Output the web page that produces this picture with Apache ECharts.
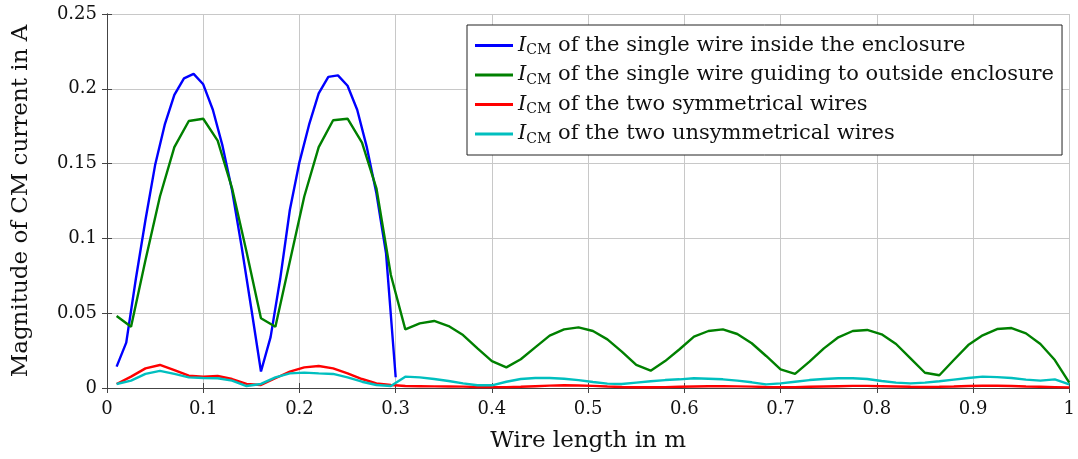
<!DOCTYPE html>
<html>
<head>
<meta charset="utf-8">
<script src="https://cdn.jsdelivr.net/npm/echarts@6/dist/echarts.min.js"></script>
<style>html,body{margin:0;padding:0;background:#fff}#c{width:1078px;height:459px}</style>
</head>
<body>
<div id="c"></div>
<script>
// Sample positions (wire length in m)
var xBlue = [0.01,0.02,0.03,0.04,0.05,0.06,0.07,0.08,0.09,0.10,0.11,0.12,0.13,0.14,0.15,0.16,0.17,0.18,0.19,0.20,0.21,0.22,0.23,0.24,0.25,0.26,0.27,0.28,0.29,0.30];
var xOther = [0.01,0.025,0.04,0.055,0.07,0.085,0.10,0.115,0.13,0.145,0.16,0.175,0.19,0.205,0.22,0.235,0.25,0.265,0.28,0.295,
  0.31,0.325,0.34,0.355,0.37,0.385,0.40,0.415,0.43,0.445,0.46,0.475,0.49,0.505,0.52,0.535,0.55,0.565,0.58,
  0.595,0.61,0.625,0.64,0.655,0.67,0.685,0.70,0.715,0.73,0.745,0.76,0.775,0.79,0.805,0.82,0.835,0.85,0.865,0.88,0.895,0.91,0.925,0.94,0.955,0.97,0.985,1.0];

// Series values (A)
var blueInside = [0.0143,0.0303,0.073,0.1125,0.149,0.176,0.196,0.207,0.210,0.203,0.186,0.162,0.132,0.094,0.053,0.011,0.034,0.073,0.119,0.151,0.176,0.197,0.208,0.209,0.202,0.186,0.161,0.130,0.090,0.0072];
var greenOutside = [0.0481,0.041,0.0856,0.128,0.161,0.1785,0.180,0.1653,0.1335,0.0911,0.0466,0.041,0.0845,0.128,0.161,0.179,0.180,0.164,0.1335,0.0755,
  0.0392,0.0432,0.0448,0.0414,0.0354,0.0265,0.018,0.0138,0.0192,0.0272,0.035,0.0392,0.0405,0.0381,0.0325,0.0243,0.0154,0.0116,0.018,
  0.0259,0.0343,0.0381,0.0392,0.0361,0.0299,0.0214,0.0125,0.0094,0.0176,0.0265,0.0339,0.0381,0.0388,0.0359,0.0294,0.0198,0.0102,0.0085,0.0187,0.0287,0.0352,0.0394,0.0401,0.0365,0.0294,0.0187,0.0036];
var redSym = [0.0027,0.0076,0.0131,0.0154,0.012,0.0082,0.0076,0.008,0.006,0.0027,0.002,0.0065,0.0109,0.0138,0.0147,0.0131,0.0098,0.006,0.0031,0.002,
  0.0013,0.0012,0.0011,0.0010,0.0009,0.0007,0.0006,0.0006,0.0008,0.0012,0.0016,0.0018,0.0017,0.0014,0.0010,0.0007,0.0005,0.0005,0.0006,
  0.0008,0.0010,0.0012,0.0012,0.0011,0.0009,0.0007,0.0006,0.0006,0.0008,0.0010,0.0012,0.0014,0.0014,0.0012,0.0010,0.0008,0.0007,0.0008,0.0010,0.0013,0.0015,0.0015,0.0013,0.0010,0.0008,0.0006,0.0004];
var cyanUnsym = [0.0027,0.0049,0.0094,0.0114,0.0094,0.0071,0.0067,0.0065,0.0049,0.0013,0.0027,0.0071,0.0098,0.0103,0.0098,0.0094,0.0071,0.0042,0.002,0.0013,
  0.0076,0.0071,0.006,0.0047,0.0031,0.0018,0.0018,0.0042,0.006,0.0067,0.0067,0.0062,0.0053,0.004,0.0029,0.0027,0.0036,0.0045,0.0053,
  0.0058,0.0065,0.0062,0.0058,0.0049,0.0038,0.0024,0.0031,0.0042,0.0053,0.006,0.0065,0.0065,0.006,0.0047,0.0036,0.0031,0.0036,0.0045,0.0056,0.0067,0.0076,0.0073,0.0067,0.0056,0.0049,0.0058,0.0024];

var legendTexts = [
  'of the single wire inside the enclosure',
  'of the single wire guiding to outside enclosure',
  'of the two symmetrical wires',
  'of the two unsymmetrical wires'
];
var xTitle = 'Wire length in m';
var yTitle = 'Magnitude of CM current in A';

var FONT = 'DejaVu Serif';
function pairs(xs, ys){ return ys.map(function(v,i){ return [xs[i], v]; }); }

var chart = echarts.init(document.getElementById('c'), null, {renderer:'canvas'});
var axisLine = {show:true, lineStyle:{color:'#444', width:1}};
var splitLine = {show:true, lineStyle:{color:'#c8c8c8', width:1}};
var tick = {show:true, inside:true, length:5, lineStyle:{color:'#444'}};

function mkSeries(name, xs, ys, color){
  return {name:name, type:'line', data:pairs(xs, ys), showSymbol:false, symbol:'none',
    lineStyle:{color:color, width:2.4}, itemStyle:{color:color}, animation:false, z:3};
}

chart.setOption({
  animation:false,
  backgroundColor:'#fff',
  grid:{left:107, right:3, top:14, bottom:71, containLabel:false},
  legend:{
    orient:'vertical', left:467, top:25, padding:[10,8,9,8], itemGap:7,
    backgroundColor:'#fff', borderColor:'#222', borderWidth:1,
    icon:'rect', itemWidth:38, itemHeight:3,
    data:legendTexts,
    formatter:function(n){ return '{i|I}{s|CM} {t|' + n + '}'; },
    textStyle:{
      fontFamily:FONT, fontSize:21, color:'#111',
      rich:{
        i:{fontFamily:FONT, fontStyle:'italic', fontSize:21, lineHeight:24, color:'#111'},
        s:{fontFamily:FONT, fontSize:14, lineHeight:13, verticalAlign:'bottom', color:'#111'},
        t:{fontFamily:FONT, fontSize:21, lineHeight:24, color:'#111'}
      }
    }
  },
  xAxis:[
    {type:'value', min:0, max:1, interval:0.1, position:'bottom',
     name:xTitle, nameLocation:'middle', nameGap:42,
     nameTextStyle:{fontFamily:FONT, fontSize:23, color:'#111'},
     axisLine:axisLine, axisTick:tick, splitLine:splitLine,
     axisLabel:{fontFamily:FONT, fontSize:18, color:'#111', margin:12}},
    {type:'value', min:0, max:1, interval:0.1, position:'top',
     axisLine:axisLine, axisTick:tick, splitLine:{show:false}, axisLabel:{show:false}}
  ],
  yAxis:[
    {type:'value', min:0, max:0.25, interval:0.05, position:'left',
     name:yTitle, nameLocation:'middle', nameGap:74, nameRotate:90,
     nameTextStyle:{fontFamily:FONT, fontSize:23, color:'#111'},
     axisLine:axisLine, axisTick:tick, splitLine:splitLine,
     axisLabel:{fontFamily:FONT, fontSize:18, color:'#111', margin:10}},
    {type:'value', min:0, max:0.25, interval:0.05, position:'right',
     axisLine:axisLine, axisTick:tick, splitLine:{show:false}, axisLabel:{show:false}}
  ],
  series:[
    mkSeries(legendTexts[0], xBlue, blueInside, '#0000ff'),
    mkSeries(legendTexts[1], xOther, greenOutside, '#008000'),
    mkSeries(legendTexts[2], xOther, redSym, '#ff0000'),
    mkSeries(legendTexts[3], xOther, cyanUnsym, '#00bfbf')
  ]
});
</script>
</body>
</html>
